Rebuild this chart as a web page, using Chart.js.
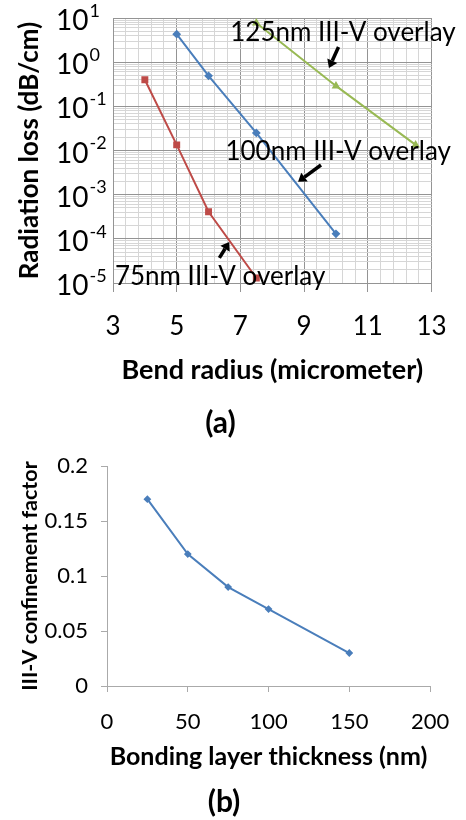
<!DOCTYPE html>
<html>
<head>
<meta charset="utf-8">
<script src="https://cdn.jsdelivr.net/npm/chart.js@4.4.1/dist/chart.umd.min.js"></script>
<style>
  html, body { margin: 0; padding: 0; background: #fff; }
  #lossChart { position: absolute; left: 0; top: 0; }
  #gammaChart { position: absolute; left: 0; top: 440px; }
</style>
</head>
<body>
<canvas id="lossChart" width="466" height="445"></canvas>
<canvas id="gammaChart" width="466" height="380"></canvas>
<script>
// (a) radiation loss vs bend radius
const radius75 = [4, 5, 6, 7.5];
const loss75 = [0.4, 0.0134, 4.1e-4, 1.3e-5];
const radius100 = [5, 6, 7.5, 10];
const loss100 = [4.3, 0.49, 0.025, 1.3e-4];
const radius125 = [7.5, 10, 12.5];
const loss125 = [7.7, 0.29, 0.0134];

const radiusLabels = [3, 5, 7, 9, 11, 13];
const lossExponents = [1, 0, -1, -2, -3, -4, -5];

// overlay notes and their arrows (data coordinates)
const noteText = ['125nm III-V overlay', '100nm III-V overlay', '75nm III-V overlay'];
const noteX = [6.68, 6.53, 3.06];
const noteY = [4.6, 9.3e-3, 1.4e-5];
const arrowFromX = [10.08, 9.53, 6.34];
const arrowFromY = [2.2, 4.7e-3, 3.7e-5];
const arrowToX = [9.78, 8.81, 6.65];
const arrowToY = [0.74, 1.95e-3, 8.5e-5];

// (b) confinement factor vs bonding layer thickness
const thickness = [25, 50, 75, 100, 150];
const confinement = [0.17, 0.12, 0.09, 0.07, 0.03];

Chart.defaults.font.family = 'Lato';
Chart.defaults.color = '#000';

const red = '#BE4B48';
const blue = '#4A7EBB';
const green = '#98B954';

// minor grid: every 0.4 on x, 1..9 x 10^n on y
const radiusTicks = [];
for (let i = 0; i <= 25; i++) radiusTicks.push((30 + 4 * i) / 10);
const lossTicks = [];
for (let e = -5; e < 1; e++) {
    for (let m = 1; m <= 9; m++) lossTicks.push(m * Math.pow(10, e));
}
lossTicks.push(10);

function isMajorLoss(v) {
    const l = Math.log10(v);
    return Math.abs(l - Math.round(l)) < 1e-6;
}

function xy(xs, ys) {
    return xs.map((x, i) => ({ x: x, y: ys[i] }));
}

const notesPlugin = {
    id: 'notes',
    afterDraw(chart) {
        const ctx = chart.ctx;
        const sx = chart.scales.x;
        const sy = chart.scales.y;
        ctx.save();
        // y tick labels as 10 with raised exponent
        ctx.fillStyle = '#000';
        ctx.textBaseline = 'middle';
        ctx.textAlign = 'left';
        lossExponents.forEach(e => {
            const py = sy.getPixelForValue(Math.pow(10, e));
            ctx.font = '28px Lato';
            ctx.fillText('10', 56, py + 3);
            const w = ctx.measureText('10').width;
            ctx.font = '18px Lato';
            ctx.fillText(String(e), 56 + w + 1, py - 7);
        });
        // arrows
        ctx.strokeStyle = '#000';
        ctx.fillStyle = '#000';
        ctx.lineWidth = 3.5;
        for (let i = 0; i < arrowFromX.length; i++) {
            const x1 = sx.getPixelForValue(arrowFromX[i]);
            const y1 = sy.getPixelForValue(arrowFromY[i]);
            const x2 = sx.getPixelForValue(arrowToX[i]);
            const y2 = sy.getPixelForValue(arrowToY[i]);
            const a = Math.atan2(y2 - y1, x2 - x1);
            const hx = x2 - 8 * Math.cos(a);
            const hy = y2 - 8 * Math.sin(a);
            ctx.beginPath();
            ctx.moveTo(x1, y1);
            ctx.lineTo(hx, hy);
            ctx.stroke();
            ctx.beginPath();
            ctx.moveTo(x2, y2);
            ctx.lineTo(hx + 5.5 * Math.sin(a), hy - 5.5 * Math.cos(a));
            ctx.lineTo(hx - 5.5 * Math.sin(a), hy + 5.5 * Math.cos(a));
            ctx.closePath();
            ctx.fill();
        }
        // notes
        ctx.font = '26px Lato';
        ctx.textBaseline = 'middle';
        noteText.forEach((t, i) => {
            ctx.fillText(t, sx.getPixelForValue(noteX[i]), sy.getPixelForValue(noteY[i]));
        });
        ctx.restore();
    }
};

const lossChart = new Chart(document.getElementById('lossChart'), {
    type: 'line',
    data: {
        datasets: [
            {
                label: '75nm III-V overlay',
                data: xy(radius75, loss75),
                borderColor: red,
                backgroundColor: red,
                borderWidth: 2,
                pointStyle: 'rect',
                pointRadius: 3.5
            },
            {
                label: '100nm III-V overlay',
                data: xy(radius100, loss100),
                borderColor: blue,
                backgroundColor: blue,
                borderWidth: 2,
                pointStyle: 'rectRot',
                pointRadius: 3
            },
            {
                label: '125nm III-V overlay',
                data: xy(radius125, loss125),
                borderColor: green,
                backgroundColor: green,
                borderWidth: 2,
                pointStyle: 'triangle',
                pointRadius: 3
            }
        ]
    },
    options: {
        responsive: false,
        animation: false,
        layout: { padding: { top: 18, right: 25, left: 0, bottom: 0 } },
        plugins: {
            legend: { display: false },
            tooltip: { enabled: false },
            title: {
                display: true,
                text: '(a)',
                position: 'bottom',
                color: '#000',
                font: { size: 30, weight: 'bold' },
                padding: { top: 0, bottom: 4 }
            }
        },
        scales: {
            x: {
                type: 'linear',
                min: 3,
                max: 13,
                afterBuildTicks: s => { s.ticks = radiusTicks.map(v => ({ value: v })); },
                afterFit: s => { s.height = 122; },
                ticks: {
                    autoSkip: false,
                    maxRotation: 0,
                    padding: 19.4,
                    font: { size: 26 },
                    callback: v => radiusLabels.includes(v) ? String(v) : ''
                },
                grid: {
                    color: c => radiusLabels.includes(c.tick.value) ? '#949494' : '#d6d6d6',
                    tickColor: c => radiusLabels.includes(c.tick.value) ? '#949494' : 'rgba(0,0,0,0)',
                    tickLength: 9
                },
                border: { color: '#949494' },
                title: {
                    display: true,
                    text: 'Bend radius (micrometer)',
                    font: { size: 27, weight: 'bold' },
                    padding: { top: 0, bottom: 18.8 }
                }
            },
            y: {
                type: 'logarithmic',
                min: 1e-5,
                max: 10,
                afterBuildTicks: s => { s.ticks = lossTicks.map(v => ({ value: v })); },
                afterFit: s => { s.width = 113; },
                ticks: { display: false },
                grid: {
                    color: c => isMajorLoss(c.tick.value) ? '#949494' : '#d6d6d6',
                    drawTicks: false
                },
                border: { color: '#949494' },
                title: {
                    display: true,
                    text: 'Radiation loss (dB/cm)',
                    font: { size: 26, weight: 'bold' },
                    padding: { top: 14.4, bottom: 0 }
                }
            }
        }
    },
    plugins: [notesPlugin]
});

const gammaChart = new Chart(document.getElementById('gammaChart'), {
    type: 'line',
    data: {
        datasets: [{
            label: 'III-V confinement factor',
            data: xy(thickness, confinement),
            borderColor: blue,
            backgroundColor: blue,
            borderWidth: 2,
            pointStyle: 'rectRot',
            pointRadius: 2.5
        }]
    },
    options: {
        responsive: false,
        animation: false,
        layout: { padding: { top: 16, right: 18, left: 0, bottom: 0 } },
        plugins: {
            legend: { display: false },
            tooltip: { enabled: false },
            title: {
                display: true,
                text: '(b)',
                position: 'bottom',
                color: '#000',
                font: { size: 30, weight: 'bold' },
                padding: { top: 0, bottom: 0 }
            }
        },
        scales: {
            x: {
                type: 'linear',
                min: 0,
                max: 200,
                afterFit: s => { s.height = 98; },
                ticks: { stepSize: 50, padding: 16.8, maxRotation: 0, font: { size: 22 } },
                grid: { drawOnChartArea: false, tickColor: '#aaa', tickLength: 6 },
                border: { color: '#aaa' },
                title: {
                    display: true,
                    text: 'Bonding layer thickness (nm)',
                    font: { size: 25, weight: 'bold' },
                    padding: { top: 0, bottom: 12 }
                }
            },
            y: {
                type: 'linear',
                min: 0,
                max: 0.2,
                afterFit: s => { s.width = 107; },
                ticks: {
                    stepSize: 0.05,
                    padding: 13,
                    font: { size: 22 },
                    callback: v => String(+v.toFixed(2))
                },
                grid: { drawOnChartArea: false, tickColor: '#aaa', tickLength: 6 },
                border: { color: '#aaa' },
                title: {
                    display: true,
                    text: 'III-V confinement factor',
                    font: { size: 21.5, weight: 'bold' },
                    padding: { top: 17, bottom: 0 }
                }
            }
        }
    }
});
</script>
</body>
</html>
